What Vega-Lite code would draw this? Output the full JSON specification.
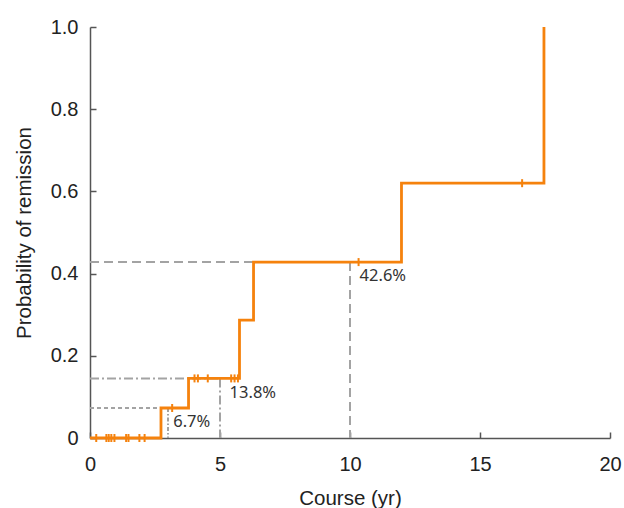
{
  "$schema": "https://vega.github.io/schema/vega-lite/v6.json",
  "width": 520,
  "height": 411,
  "autosize": {"type": "none"},
  "padding": {"left": 90, "top": 27, "right": 14, "bottom": 70},
  "background": "white",
  "config": {
    "view": {"stroke": null},
    "axis": {
      "grid": false,
      "domainColor": "#555555",
      "domainWidth": 1.5,
      "tickColor": "#555555",
      "tickWidth": 1.5,
      "tickSize": -6,
      "labelFlush": false,
      "labelFont": "Liberation Sans",
      "labelFontSize": 20,
      "labelColor": "#222222",
      "titleFont": "Liberation Sans",
      "titleFontSize": 20.5,
      "titleFontWeight": "normal",
      "titleColor": "#222222"
    }
  },
  "datasets": {
    "curve": [
      {"t": 0, "p": 0},
      {"t": 2.73, "p": 0.073},
      {"t": 3.79, "p": 0.145},
      {"t": 5.75, "p": 0.287},
      {"t": 6.29, "p": 0.428},
      {"t": 11.98, "p": 0.62},
      {"t": 17.46, "p": 1.0}
    ],
    "censor": [
      {"t": 0.24, "p": 0}, {"t": 0.63, "p": 0}, {"t": 0.72, "p": 0}, {"t": 0.82, "p": 0}, {"t": 0.94, "p": 0},
      {"t": 1.39, "p": 0}, {"t": 1.48, "p": 0}, {"t": 1.9, "p": 0}, {"t": 2.1, "p": 0},
      {"t": 3.16, "p": 0.073},
      {"t": 4.02, "p": 0.145}, {"t": 4.15, "p": 0.145}, {"t": 4.53, "p": 0.145},
      {"t": 5.43, "p": 0.145}, {"t": 5.56, "p": 0.145}, {"t": 5.69, "p": 0.145},
      {"t": 10.33, "p": 0.428},
      {"t": 16.62, "p": 0.62}
    ],
    "refs": [
      {"x": 0, "x2": 3, "y": 0.073, "y2": 0.073, "style": "short"},
      {"x": 3, "x2": 3, "y": 0.073, "y2": 0, "style": "dotdash"},
      {"x": 0, "x2": 5, "y": 0.145, "y2": 0.145, "style": "dashdot"},
      {"x": 5, "x2": 5, "y": 0.145, "y2": 0, "style": "dashdot"},
      {"x": 0, "x2": 10, "y": 0.428, "y2": 0.428, "style": "long"},
      {"x": 10, "x2": 10, "y": 0.428, "y2": 0, "style": "long"}
    ],
    "labels": [
      {"x": 3.2, "y": 0.039, "label": "6.7%"},
      {"x": 5.37, "y": 0.109, "label": "13.8%"},
      {"x": 10.37, "y": 0.394, "label": "42.6%"}
    ]
  },
  "layer": [
    {
      "data": {"name": "refs"},
      "mark": {"type": "rule", "color": "#a3a3a3", "strokeWidth": 2},
      "encoding": {
        "x": {"field": "x", "type": "quantitative", "scale": {"domain": [0, 20]},
          "axis": {"values": [0, 5, 10, 15, 20], "title": "Course (yr)", "labelPadding": 22, "titlePadding": 14}},
        "x2": {"field": "x2"},
        "y": {"field": "y", "type": "quantitative", "scale": {"domain": [0, 1]},
          "axis": {"values": [0, 0.2, 0.4, 0.6, 0.8, 1.0], "title": "Probability of remission",
            "labelExpr": "datum.value == 0 ? '0' : format(datum.value, '.1f')", "labelPadding": 18, "titlePadding": 16}},
        "y2": {"field": "y2"},
        "strokeDash": {"field": "style", "type": "nominal", "legend": null,
          "scale": {"domain": ["short", "dotdash", "dashdot", "long"], "range": [[4, 3], [4, 2, 1.5, 2], [9, 3, 2, 3], [9, 5]]}}
      }
    },
    {
      "data": {"name": "curve"},
      "mark": {"type": "line", "interpolate": "step-after", "color": "#F5820D", "strokeWidth": 2.8},
      "encoding": {
        "x": {"field": "t", "type": "quantitative"},
        "y": {"field": "p", "type": "quantitative"}
      }
    },
    {
      "data": {"name": "censor"},
      "mark": {"type": "tick", "orient": "vertical", "color": "#F5820D", "size": 8, "thickness": 2, "opacity": 1},
      "encoding": {
        "x": {"field": "t", "type": "quantitative"},
        "y": {"field": "p", "type": "quantitative"}
      }
    },
    {
      "data": {"name": "labels"},
      "mark": {"type": "text", "align": "left", "baseline": "middle", "font": "Noto Sans", "fontSize": 16.5, "color": "#333333"},
      "encoding": {
        "x": {"field": "x", "type": "quantitative"},
        "y": {"field": "y", "type": "quantitative"},
        "text": {"field": "label"}
      }
    }
  ]
}
